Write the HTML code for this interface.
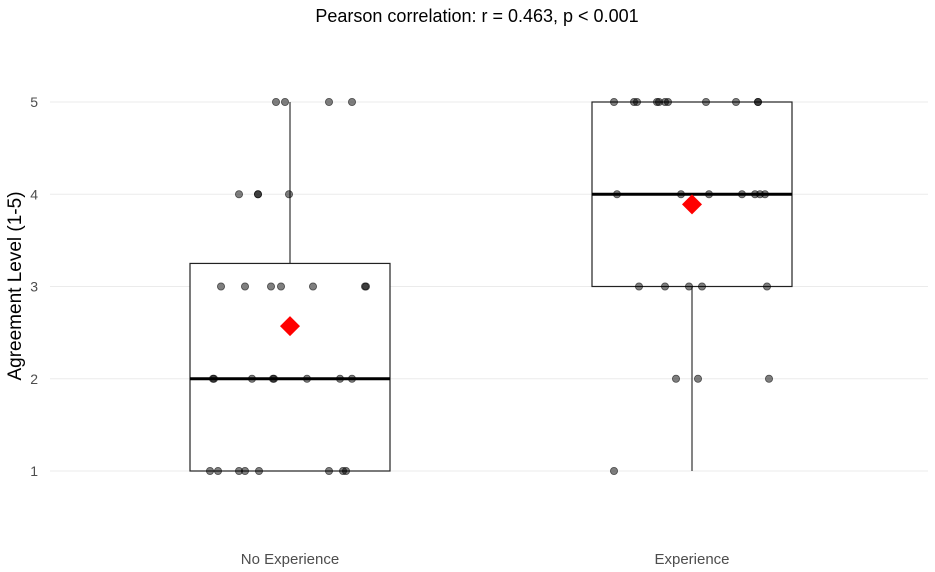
<!DOCTYPE html>
<html><head><meta charset="utf-8"><style>
body{margin:0;background:#fff;}
svg{display:block;font-family:"Liberation Sans",Arial,sans-serif;}
</style></head><body>
<svg id="chart" width="935" height="572">
<text x="477" y="22" text-anchor="middle" font-size="18" fill="#000">Pearson correlation: r = 0.463, p &lt; 0.001</text>
<text transform="translate(21,286) rotate(-90)" text-anchor="middle" font-size="19" fill="#000">Agreement Level (1-5)</text>
<g id="grid"></g><g id="boxes"></g><g id="pts"></g>
</svg>
<script>
const categories = ["No Experience", "Experience"];
const yTicks = [1, 2, 3, 4, 5];
const q1 = [1, 3];
const medians = [2, 4];
const q3 = [3.25, 5];
const whiskerLow = [1, 1];
const whiskerHigh = [5, 5];
const means = [2.57, 3.89];
const pointValues0 = [5,5,5,5, 4,4,4,4, 3,3,3,3,3,3,3, 2,2,2,2,2,2,2,2, 1,1,1,1,1,1,1,1];
const pointJitter0 = [-14,-5,39,62, -51,-32,-32,-1, -69,-45,-19,-9,23,75,76, -77,-76,-38,-17,-16,17,50,62, -80,-72,-51,-45,-31,39,53,56];
const pointValues1 = [5,5,5,5,5,5,5,5,5,5,5, 4,4,4,4,4,4,4, 3,3,3,3,3, 2,2,2, 1];
const pointJitter1 = [-78,-58,-55,-35,-33,-27,-24,14,44,66,66, -75,-11,17,50,63,68,73, -53,-27,-3,10,75, -16,6,77, -78];

const NS="http://www.w3.org/2000/svg";
const yS=v=>471-(v-1)*92.25;
const xS=i=>290+i*402;
const bw=100;
function mk(p,t,a){const e=document.createElementNS(NS,t);for(const k in a)e.setAttribute(k,a[k]);p.appendChild(e);return e;}
const grid=document.getElementById('grid'),boxes=document.getElementById('boxes'),pts=document.getElementById('pts');
yTicks.forEach(v=>{
  const l=mk(grid,'line',{x1:50,x2:928,y1:yS(v),y2:yS(v),stroke:'#ebebeb','stroke-width':1});
  
  
  const t=mk(grid,'text',{x:38,y:yS(v)+5,'text-anchor':'end','font-size':14,fill:'#4d4d4d'});
  t.textContent=v;
  
  
});
categories.forEach((c,i)=>{
  const t=mk(grid,'text',{x:xS(i),y:564,'text-anchor':'middle','font-size':15,fill:'#4d4d4d'});
  t.textContent=c;
  
  
  const g=mk(boxes,'g',{});
  
  
  mk(g,'line',{x1:xS(i),x2:xS(i),y1:yS(q3[i]),y2:yS(whiskerHigh[i]),stroke:'#333','stroke-width':1.2});
  mk(g,'line',{x1:xS(i),x2:xS(i),y1:yS(q1[i]),y2:yS(whiskerLow[i]),stroke:'#333','stroke-width':1.2});
  mk(g,'rect',{x:xS(i)-bw,y:yS(q3[i]),width:2*bw,height:yS(q1[i])-yS(q3[i]),fill:'#fff',stroke:'#222','stroke-width':1.2});
  mk(g,'line',{x1:xS(i)-bw,x2:xS(i)+bw,y1:yS(medians[i]),y2:yS(medians[i]),stroke:'#000','stroke-width':3});
});
[[pointValues0,pointJitter0],[pointValues1,pointJitter1]].forEach(([vals,jit],i)=>{
  vals.forEach((v,k)=>{
    const c=mk(pts,'circle',{cx:xS(i)+jit[k],cy:yS(v),r:3.6,fill:'rgba(0,0,0,0.5)',stroke:'rgba(0,0,0,0.6)','stroke-width':0.8});
    
    
  });
});
means.forEach((m,i)=>{
  const x=xS(i),y=yS(m),s=10;
  const p=mk(pts,'polygon',{points:`${x},${y-s} ${x+s},${y} ${x},${y+s} ${x-s},${y}`,fill:'#ff0000'});
  
  
});
</script>
</body></html>
